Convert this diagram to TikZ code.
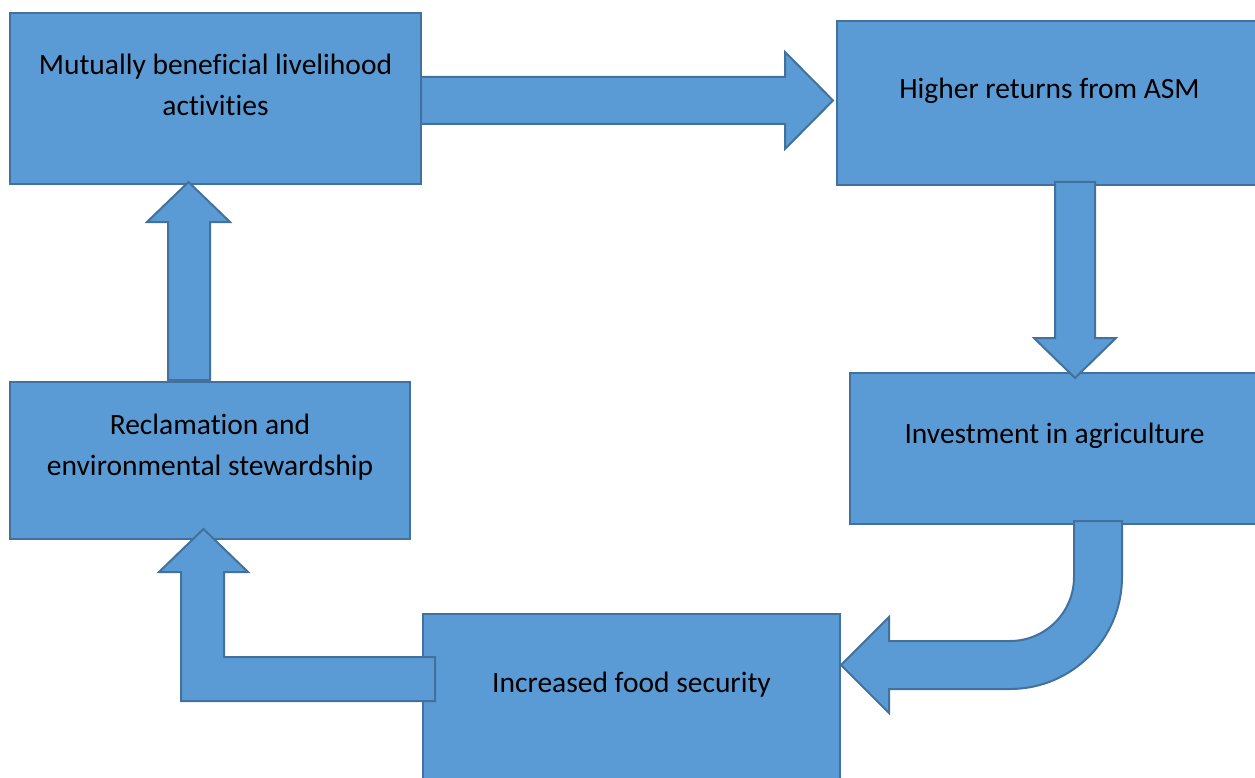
\documentclass[tikz,border=0pt]{standalone}
\usepackage{fontspec}
\setmainfont{Carlito}[Ligatures=CommonOff]
\definecolor{fillc}{HTML}{5B9BD5}
\definecolor{linec}{HTML}{41719C}
\tikzset{
  box/.style={draw=linec, fill=fillc, line width=2pt, inner sep=0pt},
  blockarrow/.style={draw=linec, fill=fillc, line width=2pt, line join=miter},
  lbl/.style={align=center, font=\fontsize{29.5}{41}\selectfont, inner sep=0pt}
}
\begin{document}
\begin{tikzpicture}[x=1pt,y=1pt]
\useasboundingbox (0,0) rectangle (1255,-778);
\clip (0,0) rectangle (1255,-778);
% boxes
\node[box, minimum width=411pt, minimum height=171pt] (b1) at (215.5,-98.5) {};
\node[box, minimum width=425pt, minimum height=164pt] (b2) at (1049.5,-103) {};
\node[box, minimum width=409pt, minimum height=151pt] (b3) at (1054.5,-448.5) {};
\node[box, minimum width=417pt, minimum height=168pt] (b4) at (631.5,-698) {};
\node[box, minimum width=400pt, minimum height=157pt] (b5) at (210,-460.5) {};
% texts
\node[lbl] (t1) at ([yshift=13.5pt]b1.center) {Mutually beneficial livelihood\\activities};
\node[lbl] (t2) at ([yshift=12pt]b2.center) {Higher returns from ASM};
\node[lbl] (t3) at ([yshift=12.5pt]b3.center) {Investment in agriculture};
\node[lbl] (t4) at ([yshift=13pt]b4.center) {Increased food security};
\node[lbl] (t5) at ([yshift=13.5pt]b5.center) {Reclamation and\\environmental stewardship};
% arrow b1 -> b2
\draw[blockarrow] (421,-77) -- (785,-77) -- (785,-52) -- (833,-100.5) -- (785,-149) -- (785,-124) -- (421,-124) -- cycle;
% arrow b2 -> b3
\draw[blockarrow] (1055,-182) -- (1095,-182) -- (1095,-338) -- (1116,-338) -- (1075,-378) -- (1034,-338) -- (1055,-338) -- cycle;
% bent arrow b3 -> b4
\draw[blockarrow] (1074,-521) -- (1122,-521) -- (1122,-577) arc[start angle=0, end angle=-90, radius=112pt]
  -- (889,-689) -- (889,-713) -- (841,-665) -- (889,-617) -- (889,-641) -- (1010,-641)
  arc[start angle=-90, end angle=0, radius=64pt] -- cycle;
% bent arrow b4 -> b5
\draw[blockarrow] (435,-657) -- (224,-657) -- (224,-572) -- (248,-572) -- (203.5,-529) -- (159,-572) -- (181,-572) -- (181,-701) -- (435,-701) -- cycle;
% arrow b5 -> b1
\draw[blockarrow] (168,-380) -- (168,-222) -- (147,-222) -- (188.5,-182) -- (230,-222) -- (210,-222) -- (210,-380) -- cycle;
\end{tikzpicture}
\end{document}
